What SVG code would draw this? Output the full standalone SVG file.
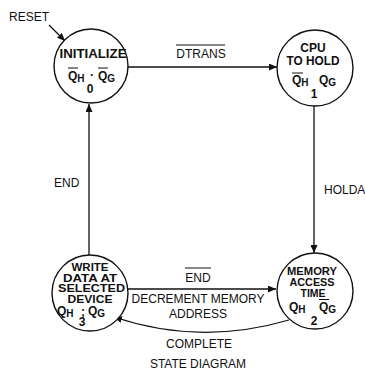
<svg xmlns="http://www.w3.org/2000/svg" width="365" height="375" viewBox="0 0 365 375">
<defs>
<style>
.n{fill:#fff;stroke:#111;stroke-width:1.4}
.t{font-family:"Liberation Sans",Arial,sans-serif;font-weight:bold;font-size:12px;fill:#111}
.l{font-family:"Liberation Sans",Arial,sans-serif;font-size:12px;fill:#111}
.c{stroke:#111;stroke-width:1.3;fill:none}
.o{stroke:#111;stroke-width:1}
.m{text-anchor:middle}
.s{font-size:10px}
.k{font-size:10.5px}
</style>
<marker id="ah" markerUnits="userSpaceOnUse" markerWidth="9" markerHeight="7" refX="8" refY="3.5" orient="auto">
<path d="M0,0 L8,3.5 L0,7 z" fill="#111"/>
</marker>
</defs>
<rect width="365" height="375" fill="#fff"/>
<g id="connectors">
<line class="c" x1="49" y1="25" x2="65" y2="41" marker-end="url(#ah)"/>
<line class="c" x1="128" y1="67" x2="277" y2="67" marker-end="url(#ah)"/>
<line class="c" x1="314" y1="106" x2="314" y2="253" marker-end="url(#ah)"/>
<line class="c" x1="89" y1="255" x2="89" y2="104" marker-end="url(#ah)"/>
<line class="c" x1="128" y1="289" x2="276" y2="289" marker-end="url(#ah)"/>
<path class="c" d="M289,320 Q200,346 114,317" marker-end="url(#ah)"/>
</g>
<g id="labels">
<text class="l" x="9" y="21" font-size="11">RESET</text>
<text class="l m" x="201" y="58">DTRANS</text>
<line class="o" x1="176" y1="45" x2="225" y2="45"/>
<text class="l" x="324" y="194" font-size="11">HOLDA</text>
<text class="l" x="54" y="187">END</text>
<text class="l m" x="198" y="282">END</text>
<line class="o" x1="185" y1="268" x2="211" y2="268"/>
<text class="l m" x="198" y="303">DECREMENT MEMORY</text>
<text class="l m" x="198" y="318">ADDRESS</text>
<text class="l m" x="199" y="348">COMPLETE</text>
<text class="l m" x="198" y="368">STATE DIAGRAM</text>
</g>
<g id="node0">
<circle class="n" cx="91" cy="66" r="37"/>
<text class="t m" x="93" y="58" font-size="13" textLength="67" lengthAdjust="spacingAndGlyphs">INITIALIZE</text>
<text class="t" x="68" y="80">Q<tspan class="s" dy="2">H</tspan></text>
<line class="o" x1="68" y1="68" x2="78" y2="68"/>
<text class="t m" x="92" y="79">·</text>
<text class="t" x="98" y="80">Q<tspan class="s" dy="2">G</tspan></text>
<line class="o" x1="98" y1="68" x2="108" y2="68"/>
<text class="t m" x="90" y="93" font-size="11">0</text>
</g>
<g id="node1">
<circle class="n" cx="315" cy="68" r="38"/>
<text class="t m" x="313" y="52">CPU</text>
<text class="t m" x="313" y="65" textLength="53" lengthAdjust="spacingAndGlyphs">TO HOLD</text>
<text class="t" x="292" y="84">Q<tspan class="s" dy="2">H</tspan></text>
<line class="o" x1="292" y1="73" x2="303" y2="73"/>
<text class="t" x="319" y="84">Q<tspan class="s" dy="2">G</tspan></text>
<text class="t m" x="314" y="98" font-size="11">1</text>
</g>
<g id="node2">
<circle class="n" cx="315" cy="291" r="38"/>
<text class="t m k" x="312" y="275" textLength="50" lengthAdjust="spacingAndGlyphs">MEMORY</text>
<text class="t m k" x="312" y="286" textLength="45" lengthAdjust="spacingAndGlyphs">ACCESS</text>
<text class="t m k" x="313" y="296.5" textLength="25" lengthAdjust="spacingAndGlyphs">TIME</text>
<text class="t" x="289" y="311">Q<tspan class="s" dy="2">H</tspan></text>
<text class="t" x="319" y="311">Q<tspan class="s" dy="2">G</tspan></text>
<line class="o" x1="319" y1="299.5" x2="329" y2="299.5"/>
<text class="t m" x="314" y="325" font-size="11">2</text>
</g>
<g id="node3">
<circle class="n" cx="90" cy="293" r="38"/>
<text class="t m k" x="90" y="270.5" textLength="37" lengthAdjust="spacingAndGlyphs">WRITE</text>
<text class="t m k" x="90" y="281.5" textLength="54" lengthAdjust="spacingAndGlyphs">DATA AT</text>
<text class="t m k" x="91.5" y="292" textLength="67" lengthAdjust="spacingAndGlyphs">SELECTED</text>
<text class="t m k" x="90" y="302.5" textLength="45" lengthAdjust="spacingAndGlyphs">DEVICE</text>
<text class="t" x="57" y="315">Q<tspan class="s" dy="2">H</tspan></text>
<text class="t m" x="83" y="315.5">;</text>
<text class="t" x="88" y="315">Q<tspan class="s" dy="2">G</tspan></text>
<text class="t m" x="82" y="326" font-size="11">3</text>
</g>
</svg>
